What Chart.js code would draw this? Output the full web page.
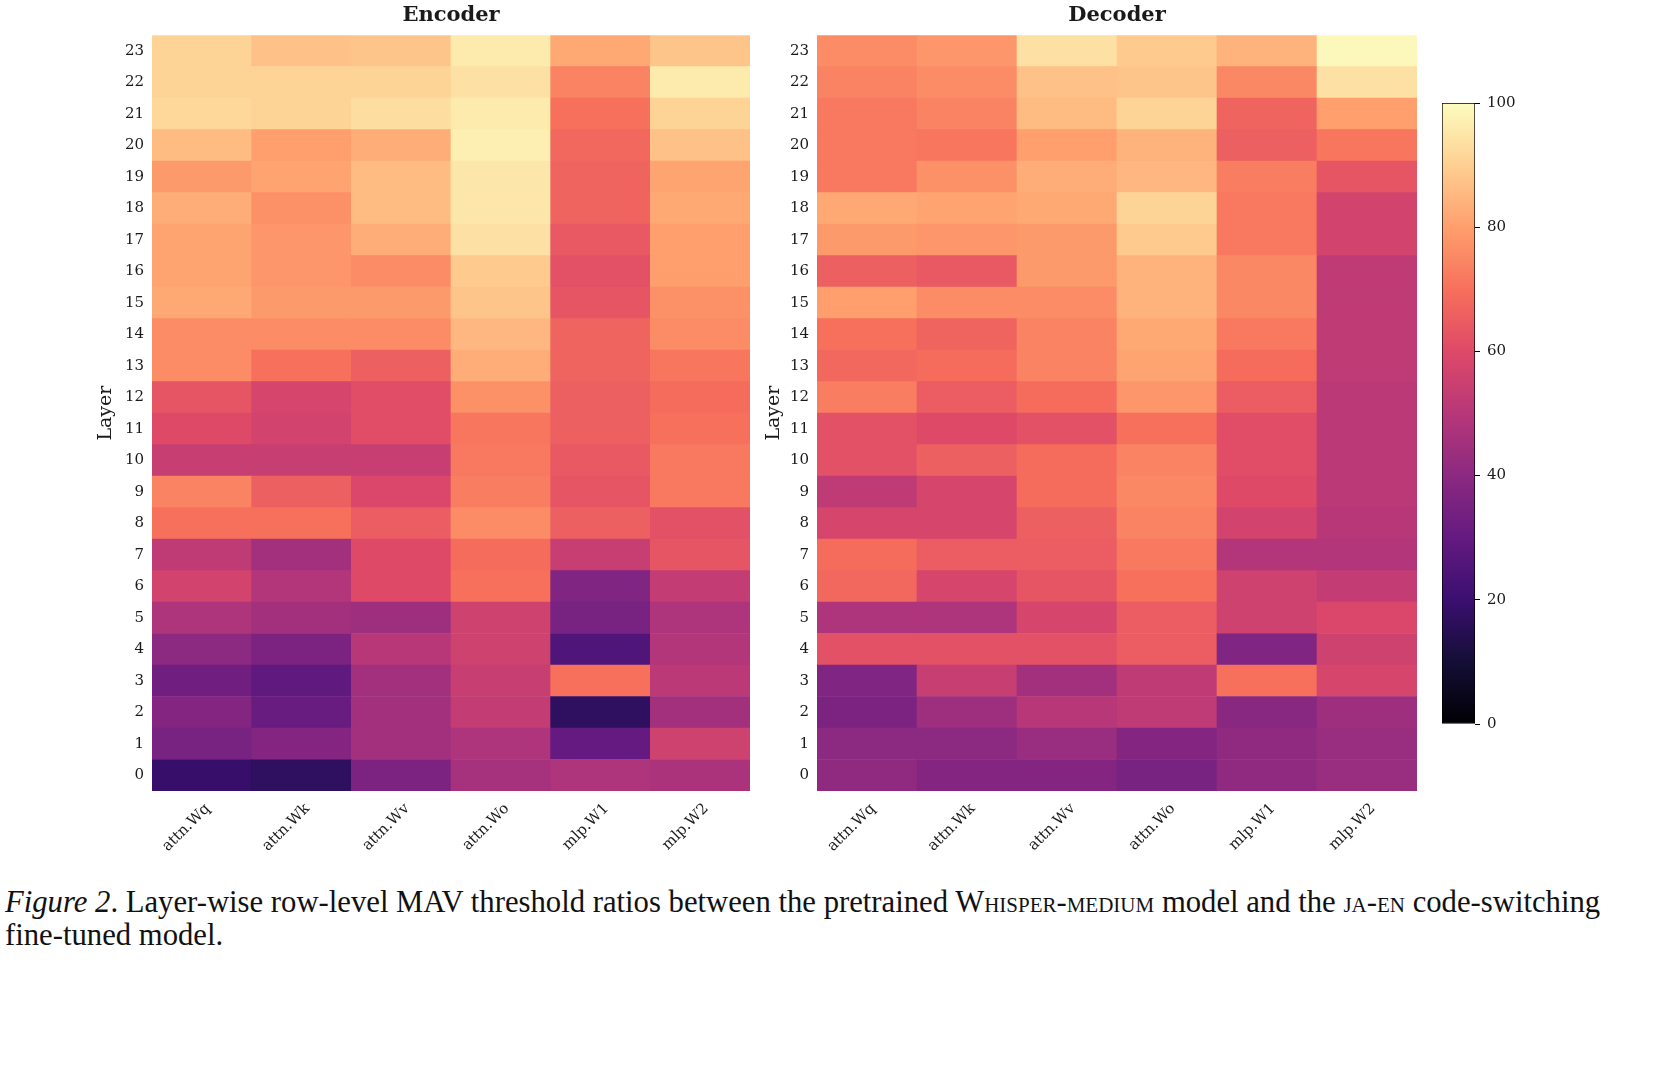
<!DOCTYPE html>
<html><head><meta charset="utf-8">
<script src="https://cdn.jsdelivr.net/npm/chart.js@4"></script>
<style>
body{margin:0;background:#fff;width:1664px;height:1065px;position:relative;overflow:hidden}
canvas{position:absolute}
#cap{position:absolute;left:5px;top:886px;width:1650px;font-family:"Liberation Serif","Times New Roman",serif;font-size:30.7px;line-height:33px;color:#111}
.sc{font-variant:small-caps}
.nw{white-space:nowrap}
</style></head><body>
<canvas id="enc" width="755" height="870" style="left:0;top:0"></canvas>
<canvas id="dec" width="722" height="870" style="left:700px;top:0"></canvas>
<canvas id="cbar" width="130" height="800" style="left:1420px;top:0"></canvas>
<div id="cap"><i>Figure 2</i>. Layer-wise row-level MAV threshold ratios between the pretrained W<span class="sc">hisper-medium</span> model and the <span class="sc">ja-en</span> code-switching <span class="nw">fine-tuned</span> model.</div>
<script>
const layers = Array.from({length:24},(_,i)=>i);
const columns = ['attn.Wq','attn.Wk','attn.Wv','attn.Wo','mlp.W1','mlp.W2'];
const cbTicks = [0,20,40,60,80,100];

// Encoder values, layer 0 -> 23
const encWq = [19,35,38,33,40,48,57,52,70,74,54,60,63,76,76,82,81,81,83,79,86,92,91,91];
const encWk = [17,38,31,29,36,45,49,45,70,66,54,57,58,70,76,79,78,78,77,81,80,91,91,87];
const encWv = [36,45,45,45,50,44,60,60,65,59,54,61,61,66,76,79,76,83,86,86,83,93,91,88];
const encWo = [46,48,53,54,56,56,70,69,76,73,72,71,77,83,85,88,89,94,95,95,97,96,94,96];
const encW1 = [48,30,17,70,25,35,37,54,66,63,64,66,66,67,67,63,62,64,67,67,68,70,74,82];
const encW2 = [47,56,45,51,49,48,53,63,62,72,72,70,69,71,76,77,80,80,82,81,87,91,96,88];

// Decoder values, layer 0 -> 23
const decWq = [41,40,36,37,62,48,68,69,58,52,62,62,73,68,70,80,66,79,82,72,72,72,74,76];
const decWk = [38,40,44,54,62,48,58,65,58,58,66,60,65,69,67,76,64,78,81,77,71,74,76,78];
const decWv = [38,43,50,45,62,58,63,65,66,69,69,62,69,74,74,76,79,79,82,83,80,86,87,94];
const decWo = [35,38,52,52,65,65,70,72,74,75,74,70,78,81,82,84,84,89,91,85,84,91,88,89];
const decW1 = [41,41,39,70,37,56,56,49,57,60,61,61,65,69,72,75,75,72,72,73,66,67,75,84];
const decW2 = [43,43,44,58,56,59,53,49,50,51,51,51,51,52,52,52,52,57,57,63,71,80,94,99];

const magmaStops = [[0,0,4],[20,14,54],[59,15,112],[100,26,128],[140,41,129],[183,55,121],[222,73,104],[247,112,92],[254,159,109],[254,207,146],[252,253,191]];
function magma(t){
  t=Math.max(0,Math.min(1,t));
  const p=t*10, i=Math.min(9,Math.floor(p)), f=p-i;
  const a=magmaStops[i], b=magmaStops[i+1];
  return 'rgb('+a.map((v,k)=>Math.round(v+(b[k]-v)*f)).join(',')+')';
}

const SERIF = "'DejaVu Serif', serif";
const TXT = '#1a1a1a';

function makeHeat(id, title, cols, axisW, layerPad){
  const datasets = layers.map((L,i)=>({
    label:'Layer '+L,
    data: columns.map(()=>1),
    backgroundColor: cols.map(c=>magma(c[i]/100)),
    borderWidth:0, barPercentage:1, categoryPercentage:1
  }));
  new Chart(document.getElementById(id),{
    type:'bar',
    data:{labels:columns, datasets},
    options:{
      responsive:false, animation:false,
      layout:{padding:{left:0,right:5,top:0,bottom:0}},
      plugins:{
        legend:{display:false}, tooltip:{enabled:false},
        title:{display:true, text:title, fullSize:false, color:TXT,
          font:{family:SERIF, size:21, weight:'bold'}, padding:{top:3,bottom:7}}
      },
      scales:{
        x:{stacked:true, grid:{display:false, drawTicks:false}, border:{display:false},
          ticks:{autoSkip:false, minRotation:45, maxRotation:45, color:TXT, padding:9, labelOffset:6,
            font:{family:SERIF, size:15}},
          afterFit(s){s.height=79;}},
        y:{stacked:true, min:0, max:24, grid:{display:false, drawTicks:false}, border:{display:false},
          afterBuildTicks(s){s.ticks = layers.map(l=>({value:l+0.5}));},
          ticks:{color:TXT, padding:8, font:{family:SERIF, size:15},
            callback:v=>String(Math.floor(v))},
          title:{display:true, text:'Layer', color:TXT, font:{family:SERIF,size:19},
            padding:{top:layerPad,bottom:0}},
          afterFit(s){s.width=axisW;}}
      }
    }
  });
}
makeHeat('enc','Encoder',[encWq,encWk,encWv,encWo,encW1,encW2],152,95);
makeHeat('dec','Decoder',[decWq,decWk,decWv,decWo,decW1,decW2],117,63);

new Chart(document.getElementById('cbar'),{
  type:'bar',
  data:{labels:['scale'], datasets:[{
    data:[[cbTicks[0], cbTicks[cbTicks.length-1]]],
    backgroundColor(ctx){
      const a=ctx.chart.chartArea; if(!a) return '#000';
      const g=ctx.chart.ctx.createLinearGradient(0,a.bottom,0,a.top);
      magmaStops.forEach((c,i)=>g.addColorStop(i/10,'rgb('+c.join(',')+')'));
      return g;
    },
    borderColor:'#000', borderWidth:1, borderSkipped:false,
    barPercentage:1, categoryPercentage:1
  }]},
  options:{
    responsive:false, animation:false,
    layout:{padding:{left:22,right:0,top:103,bottom:76}},
    plugins:{legend:{display:false}, tooltip:{enabled:false}},
    scales:{
      x:{display:false},
      y:{position:'right', min:0, max:100,
        afterBuildTicks(s){s.ticks = cbTicks.map(v=>({value:v}));},
        ticks:{color:TXT, padding:7, font:{family:SERIF,size:15}},
        grid:{drawOnChartArea:false, drawTicks:true, tickLength:5, color:'#000'},
        border:{display:false},
        afterFit(s){s.width=75;}}
    }
  }
});
</script>
</body></html>
